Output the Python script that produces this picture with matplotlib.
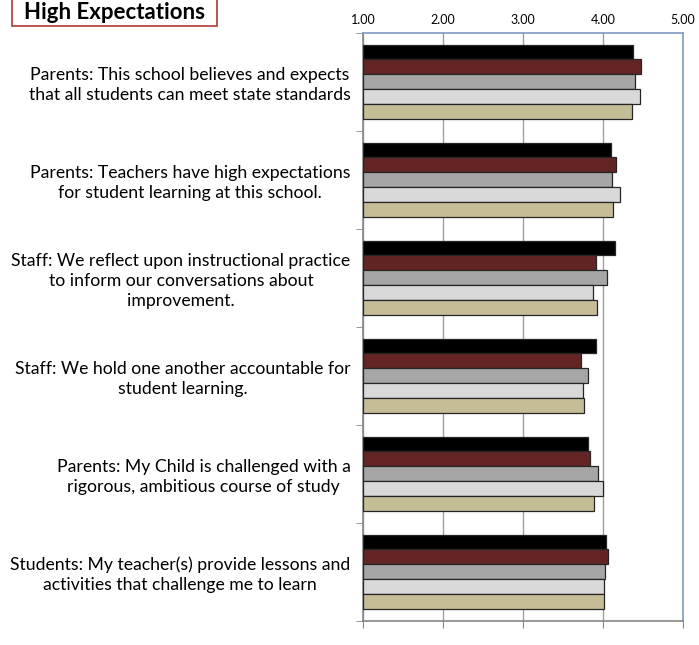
import numpy as np
import matplotlib.pyplot as plt
from matplotlib.patches import Rectangle

plt.rcParams['font.family'] = ['Lato', 'DejaVu Sans']

# Survey items (top to bottom)
questions = [
    'Parents: This school believes and expects\nthat all students can meet state standards',
    'Parents: Teachers have high expectations\nfor student learning at this school.',
    'Staff: We reflect upon instructional practice\nto inform our conversations about\nimprovement.',
    'Staff: We hold one another accountable for\nstudent learning.',
    'Parents: My Child is challenged with a\nrigorous, ambitious course of study',
    'Students: My teacher(s) provide lessons and\nactivities that challenge me to learn',
]

# Five series per item, drawn top to bottom within each group
series_1 = [4.38, 4.10, 4.15, 3.91, 3.81, 4.04]
series_2 = [4.48, 4.16, 3.92, 3.73, 3.84, 4.07]
series_3 = [4.40, 4.12, 4.05, 3.81, 3.94, 4.03]
series_4 = [4.47, 4.22, 3.88, 3.75, 4.00, 4.02]
series_5 = [4.37, 4.13, 3.93, 3.77, 3.89, 4.02]

all_series = [series_1, series_2, series_3, series_4, series_5]
colors = ['#000000', '#632523', '#A6A6A6', '#D9D9D9', '#C4BD97']

xticks = [1, 2, 3, 4, 5]

fig = plt.figure(figsize=(6.99, 6.45), dpi=100)
ax = fig.add_axes([363 / 699, 1 - 620.7 / 645, (682.7 - 363) / 699, (620.7 - 32.5) / 645])

y = np.arange(len(questions))
h = 0.151
n = len(all_series)
for j, (vals, c) in enumerate(zip(all_series, colors)):
    offs = -n * h / 2 + (j + 0.5) * h
    ax.barh(y + offs, np.array(vals) - 1, left=1, height=h, color=c,
            edgecolor='#262626', linewidth=0.9, zorder=3)

ax.set_xlim(1, 5)
ax.set_ylim(len(questions) - 0.5, -0.5)

# value axis: ticks at bottom, labels at top
ax.set_xticks(xticks)
ax.set_xticklabels(['%.2f' % v for v in xticks])
ax.tick_params(axis='x', top=False, labeltop=True, bottom=True, labelbottom=False,
               length=5, color='#868686', labelsize=9, pad=0)
ax.xaxis.grid(True, color='#A0A0A0', linewidth=1, zorder=0)

# category axis
ax.set_yticks(y)
ax.set_yticklabels(questions, ha='right', multialignment='center')
ax.set_yticks(np.arange(len(questions) + 1) - 0.5, minor=True)
ax.tick_params(axis='y', which='major', length=0, labelsize=12.7, pad=9)
ax.tick_params(axis='y', which='minor', length=5, color='#868686')
for lab in ax.get_yticklabels():
    lab.set_linespacing(1.3)

ax.spines['left'].set_color('#868686')
ax.spines['bottom'].set_color('#868686')
ax.spines['top'].set_color('#7F9DC4')
ax.spines['right'].set_color('#7F9DC4')
for s in ax.spines.values():
    s.set_linewidth(1.2)

# title box
fig.patches.append(Rectangle((12 / 699, 1 - 26 / 645), 205 / 699, 40 / 645,
                             transform=fig.transFigure, facecolor='white',
                             edgecolor='#B03A37', linewidth=1.2))
fig.text(114.5 / 699, 1 - 12.5 / 645, 'High Expectations', ha='center', va='center',
         fontsize=16, fontweight='bold')

fig.savefig('out.png')
